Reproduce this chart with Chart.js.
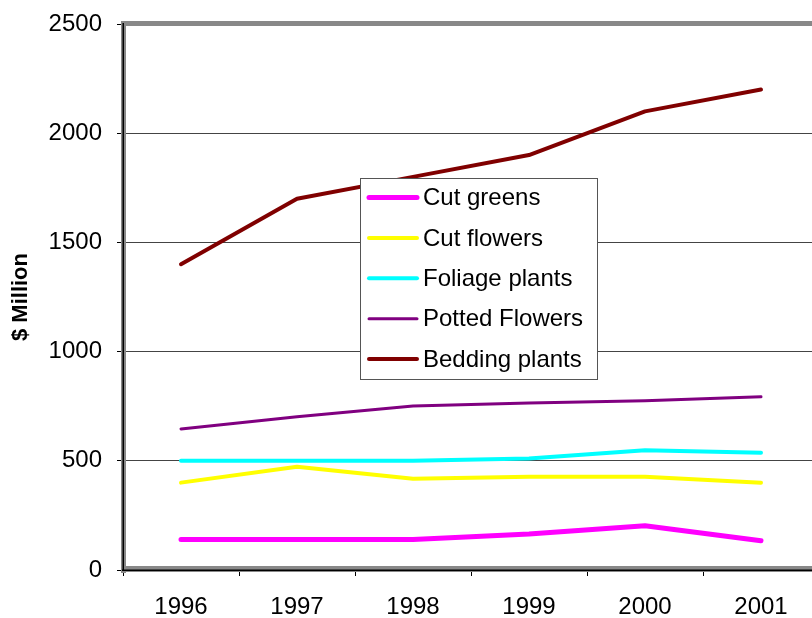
<!DOCTYPE html>
<html>
<head>
<meta charset="utf-8">
<script src="https://cdn.jsdelivr.net/npm/chart.js@4/dist/chart.umd.min.js"></script>
<style>
    html, body { margin: 0; padding: 0; background: #fff; overflow: hidden; }
    #wrap { position: relative; width: 830px; height: 618px; }
</style>
</head>
<body>
<div id="wrap"><canvas id="chart"></canvas></div>
<script>
// 数据
const years = ['1996', '1997', '1998', '1999', '2000', '2001'];
const seriesNames = ['Cut greens', 'Cut flowers', 'Foliage plants', 'Potted Flowers', 'Bedding plants'];
const cutGreens = [140, 140, 140, 165, 203, 134];
const cutFlowers = [400, 473, 418, 427, 427, 400];
const foliagePlants = [500, 500, 500, 510, 548, 537];
const pottedFlowers = [646, 702, 751, 765, 775, 793];
const beddingPlants = [1400, 1700, 1800, 1900, 2100, 2200];
const yTicks = [0, 500, 1000, 1500, 2000, 2500];

const colors = ['#ff00ff', '#ffff00', '#00ffff', '#800080', '#800000'];
const widths = [5, 4, 4, 3, 4];
const FONT = '"Liberation Sans", Arial, sans-serif';

const makeSet = (i, data) => ({
    label: seriesNames[i],
    data: data,
    borderColor: colors[i],
    backgroundColor: colors[i],
    borderWidth: widths[i],
    borderCapStyle: 'round',
    borderJoinStyle: 'round',
    pointRadius: 0,
    tension: 0,
    fill: false
});

// 三维框架 (Excel 风格)
const framePlugin = {
    id: 'frame',
    beforeDatasetsDraw(chart) {
        const { ctx, chartArea: a } = chart;
        ctx.save();
        ctx.fillStyle = '#888888';
        ctx.fillRect(a.left - 2, a.top - 3, a.right - a.left + 4, 5);
        ctx.fillRect(a.left - 2, a.top - 3, 5, a.bottom - a.top + 6);
        ctx.fillRect(a.left - 2, a.bottom - 4, a.right - a.left + 4, 6);
        ctx.fillStyle = '#000';
        ctx.fillRect(a.left - 0.5, a.top - 1, 1.5, a.bottom - a.top + 1);
        ctx.fillRect(a.left - 1, a.bottom - 0.5, a.right - a.left + 1, 1.5);
        ctx.restore();
    }
};

// 图例 (画在线条上方)
const legendPlugin = {
    id: 'boxLegend',
    afterDatasetsDraw(chart) {
        const { ctx } = chart;
        const x = 360.5, y = 178.5, w = 237, h = 201;
        ctx.save();
        ctx.fillStyle = '#fff';
        ctx.fillRect(x, y, w, h);
        ctx.strokeStyle = '#555';
        ctx.lineWidth = 1;
        ctx.strokeRect(x, y, w, h);
        ctx.font = '24px ' + FONT;
        ctx.textBaseline = 'middle';
        ctx.textAlign = 'left';
        chart.data.datasets.forEach((ds, i) => {
            const cy = 197.5 + i * 40.4;
            ctx.strokeStyle = ds.borderColor;
            ctx.lineWidth = ds.borderWidth;
            ctx.lineCap = 'round';
            ctx.beginPath();
            ctx.moveTo(369, cy);
            ctx.lineTo(417, cy);
            ctx.stroke();
            ctx.fillStyle = '#000';
            ctx.fillText(ds.label, 423, cy + 1);
        });
        ctx.restore();
    }
};

new Chart(document.getElementById('chart'), {
    type: 'line',
    data: {
        labels: years,
        datasets: [
            makeSet(0, cutGreens),
            makeSet(1, cutFlowers),
            makeSet(2, foliagePlants),
            makeSet(3, pottedFlowers),
            makeSet(4, beddingPlants)
        ]
    },
    options: {
        responsive: true,
        maintainAspectRatio: false,
        animation: false,
        layout: { padding: { top: 24, right: 11, left: 0, bottom: 0 } },
        plugins: {
            legend: { display: false },
            tooltip: { enabled: false }
        },
        scales: {
            x: {
                offset: true,
                grid: {
                    offset: true,
                    drawOnChartArea: false,
                    drawTicks: true,
                    tickLength: 6,
                    color: '#000'
                },
                border: { display: false },
                ticks: {
                    color: '#000',
                    padding: 17,
                    maxRotation: 0,
                    font: { family: FONT, size: 24 }
                },
                afterFit(scale) {
                    scale.height = 48;
                    scale.paddingLeft = 0;
                    scale.paddingRight = 0;
                }
            },
            y: {
                min: 0,
                max: 2500,
                afterBuildTicks(scale) { scale.ticks = yTicks.map(v => ({ value: v })); },
                grid: {
                    color: (c) => (c.tick && (c.tick.value === 0 || c.tick.value === 2500)) ? 'rgba(0,0,0,0)' : '#444',
                    tickColor: '#000',
                    drawTicks: true,
                    tickLength: 6
                },
                border: { display: false },
                ticks: {
                    color: '#000',
                    padding: 15,
                    font: { family: FONT, size: 24 },
                    callback: (v) => String(v)
                },
                title: {
                    display: true,
                    text: '$ Million',
                    color: '#000',
                    padding: { top: 8, bottom: 0 },
                    font: { family: FONT, size: 22, weight: 'bold' }
                },
                afterFit(scale) {
                    scale.width = 123;
                    scale.paddingTop = 0;
                    scale.paddingBottom = 0;
                }
            }
        }
    },
    plugins: [framePlugin, legendPlugin]
});
</script>
</body>
</html>
